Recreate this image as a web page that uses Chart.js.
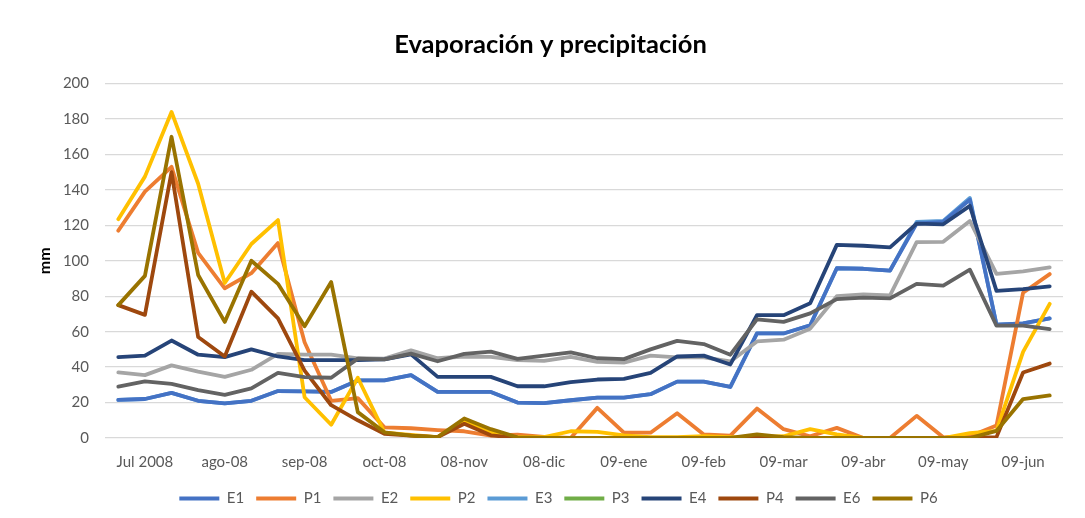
<!DOCTYPE html>
<html>
<head>
<meta charset="utf-8">
<script src="https://cdn.jsdelivr.net/npm/chart.js@4.4.1/dist/chart.umd.min.js"></script>
<style>
  html, body { margin: 0; padding: 0; background: #ffffff; }
  #wrap { width: 1085px; height: 518px; position: relative; }
</style>
</head>
<body>
<div id="wrap"><canvas id="c" width="1085" height="518"></canvas></div>
<script>
// Categories: 3 periods (decades) per month, Jul 2008 - Jun 2009
const categories = [
  'jul-1','jul-2','jul-3','ago-1','ago-2','ago-3','sep-1','sep-2','sep-3',
  'oct-1','oct-2','oct-3','nov-1','nov-2','nov-3','dic-1','dic-2','dic-3',
  'ene-1','ene-2','ene-3','feb-1','feb-2','feb-3','mar-1','mar-2','mar-3',
  'abr-1','abr-2','abr-3','may-1','may-2','may-3','jun-1','jun-2','jun-3'
];
const tickLabels = ['Jul 2008','ago-08','sep-08','oct-08','08-nov','08-dic','09-ene','09-feb','09-mar','09-abr','09-may','09-jun'];
const yTicks = [0, 20, 40, 60, 80, 100, 120, 140, 160, 180, 200];

const E1 = [21.5,22,25.5,21,19.5,21,26.5,26.3,26,32.5,32.5,35.5,26,26,26,20,19.7,21.3,22.8,22.8,24.7,31.8,31.8,28.8,59,59,63.6,95.8,95.5,94.5,121,122,134.5,64,64.7,67.5];
const P1 = [117,139,153,104.5,84.5,93,110,54,21,22.5,6,5.5,4.5,3.8,1.3,1.9,0.6,0,17,3,3,14,2,1.3,16.6,5,1,5.7,0,0,12.5,0.4,1,7,82,92.5];
const E2 = [37,35.5,41,37.5,34.5,38.5,47.5,47,47,45,44.8,49.5,45,46,45.8,44,43.5,45.8,43,42.5,46.5,45.5,45.5,43.2,54.5,55.5,61.7,80,81,80.5,110.5,110.7,122.5,92.6,94,96.3];
const P2 = [123.5,147.5,184,143.5,87.5,109.5,123,23,7.5,34,3,1.7,0.5,10,3,0.5,0.5,3.8,3.5,1.5,0.5,0.5,1,0.5,0.5,1,5,2,0,0,0,0,2.8,4,48.6,75.7];
const E3 = [21.5,22,25.5,21,19.5,21,26.5,26.3,26,32.5,32.5,35.5,26,26,26,20,19.7,21.3,22.8,22.8,24.7,31.8,31.8,28.8,59,59,63.6,95.8,95.5,94.5,122,122.5,135.5,64,64.7,67.5];
// P3 is in the legend but no line of it is visible in the chart
const P3 = [null,null,null,null,null,null,null,null,null,null,null,null,null,null,null,null,null,null,null,null,null,null,null,null,null,null,null,null,null,null,null,null,null,null,null,null];
const E4 = [45.6,46.5,55,47,45.6,50,46,44,44,44,44.4,47.2,34.5,34.5,34.5,29.2,29.2,31.5,33,33.4,36.7,46,46.5,41.5,69.3,69.3,76,109,108.5,107.6,121,120.6,131,83,84,85.6];
const P4 = [75,69.5,150,57,46,82.6,67.5,38,18.5,10,2.3,1.3,0.5,8,1.5,0,0,0,0,0,0,0,0,0,0,0,0,0,0,0,0,0,0,0.5,37,42];
const E6 = [29,32,30.5,27,24.3,28,36.7,34.4,34,44.8,44.4,47.6,43.3,47.5,48.7,44.7,46.5,48.3,45,44.5,50,54.8,53,47,67,65.5,70.3,78.4,79.2,78.8,87,86,95,63.4,63.4,61.5];
const P6 = [75,91.5,170,92,65.5,100,87,63,88,14.6,3.2,1.3,0.5,11,5,0.4,0,0,0,0,0,0,0,0,2,0.5,0,0,0,0,0,0,0,4,22,24];

const seriesNames = ['E1','P1','E2','P2','E3','P3','E4','P4','E6','P6'];
const seriesData = [E1,P1,E2,P2,E3,P3,E4,P4,E6,P6];
const seriesColors = ['#4472C4','#ED7D31','#A5A5A5','#FFC000','#5B9BD5','#70AD47','#264478','#9E480E','#636363','#997300'];
// Chart.js draws higher 'order' first (underneath). Later series on top, E3 beneath E1.
const drawOrder = [10, 9, 8, 7, 11, 20, 4, 3, 2, 1];

const FONT = 'Lato, "Open Sans", sans-serif';

const datasets = seriesNames.map((name, i) => ({
  label: name,
  data: seriesData[i],
  borderColor: seriesColors[i],
  backgroundColor: seriesColors[i],
  borderWidth: 3.8,
  pointRadius: 0,
  pointHoverRadius: 0,
  tension: 0,
  fill: false,
  spanGaps: false,
  borderJoinStyle: 'round',
  borderCapStyle: 'round',
  order: drawOrder[i]
}));

const shiftBoxes = {
  id: 'shiftBoxes',
  afterLayout(chart) {
    const lg = chart.legend;
    if (lg) { lg.left += 17; lg.right += 17; }
    const t = chart.titleBlock;
    if (t) { t.left += 9; t.right += 9; }
  }
};

new Chart(document.getElementById('c'), {
  type: 'line',
  data: { labels: categories, datasets: datasets },
  plugins: [shiftBoxes],
  options: {
    responsive: false,
    animation: false,
    devicePixelRatio: 1,
    layout: { padding: { left: 20, right: 22, top: 0, bottom: 2 } },
    plugins: {
      title: {
        display: true,
        text: 'Evaporación y precipitación',
        color: '#000000',
        font: { family: FONT, size: 25.5, weight: 'bold' },
        padding: { top: 29, bottom: 24 }
      },
      legend: {
        position: 'bottom',
        labels: {
          boxWidth: 40,
          boxHeight: 4,
          padding: 12,
          color: '#595959',
          font: { family: FONT, size: 15 },
          sort: (a, b) => a.datasetIndex - b.datasetIndex,
          generateLabels: (chart) => chart.data.datasets.map((ds, i) => ({
            text: ds.label,
            fillStyle: ds.borderColor,
            strokeStyle: ds.borderColor,
            lineWidth: 0,
            fontColor: '#595959',
            hidden: false,
            datasetIndex: i
          }))
        }
      },
      tooltip: { enabled: false }
    },
    scales: {
      x: {
        type: 'category',
        offset: true,
        grid: { display: false, drawTicks: false },
        border: { display: false },
        afterFit: (scale) => { scale.height = 41; },
        ticks: {
          autoSkip: false,
          maxRotation: 0,
          minRotation: 0,
          padding: 15,
          color: '#595959',
          font: { family: FONT, size: 15 },
          callback: (value, index) => (index % 3 === 1 ? tickLabels[(index - 1) / 3] : '')
        }
      },
      y: {
        min: 0,
        max: 200,
        afterBuildTicks: (scale) => { scale.ticks = yTicks.map(v => ({ value: v })); },
        afterFit: (scale) => { scale.width = 85; },
        grid: { color: '#D9D9D9', lineWidth: 1.3, drawTicks: false },
        border: { display: false },
        ticks: {
          padding: 16,
          color: '#595959',
          font: { family: FONT, size: 15 }
        },
        title: {
          display: true,
          text: 'mm',
          color: '#000000',
          font: { family: FONT, size: 16, weight: 'bold' },
          padding: { top: 15, bottom: 12 }
        }
      }
    }
  }
});
</script>
</body>
</html>
